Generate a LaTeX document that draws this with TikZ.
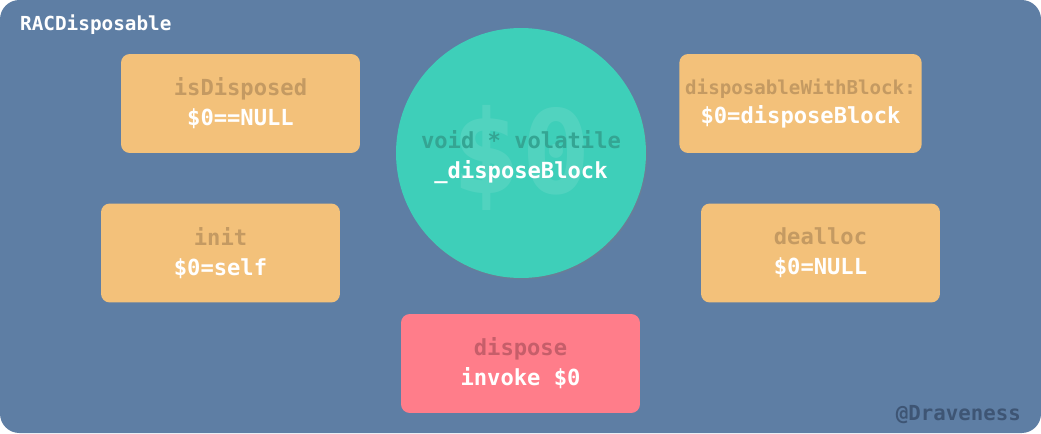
\documentclass[tikz,border=0pt]{standalone}
\usepackage{fontspec}
\setmonofont{DejaVu Sans Mono}
\usepackage{tikz}
\usetikzlibrary{shadows}
\definecolor{bgblue}{HTML}{5E7EA4}
\definecolor{boxorange}{HTML}{F3C17A}
\definecolor{txtorange}{HTML}{C49A62}
\definecolor{boxpink}{HTML}{FF7D8A}
\definecolor{txtpink}{HTML}{C65E6A}
\definecolor{circteal}{HTML}{3ECFB9}
\definecolor{txtteal}{HTML}{34A593}
\definecolor{markteal}{HTML}{5ED6C4}
\definecolor{signgray}{HTML}{3E5574}

\begin{document}
\begin{tikzpicture}[
    x=0.02cm, y=-0.02cm,
    method/.style={
      rectangle, fill=boxorange, rounded corners=5pt,
      minimum width=4.78cm, minimum height=1.98cm,
      align=center, text=white,
      font=\ttfamily\bfseries\fontsize{12.6}{17}\selectfont
    },
    action/.style={method, fill=boxpink},
    ivar/.style={
      circle, fill=circteal, minimum size=5cm, inner sep=0pt,
      drop shadow={opacity=0.35, shadow xshift=0.6pt, shadow yshift=-0.8pt}
    }
  ]
  \useasboundingbox (0,0) rectangle (1041,433);
  % background
  \fill[bgblue, rounded corners=11pt] (0,0) rectangle (1041,433);
  \node[anchor=west, text=white, font=\ttfamily\bfseries\fontsize{11}{13}\selectfont] (title) at (14,25) {RACDisposable};
  % ivar in the middle, with a faint $0 behind its text
  \node[ivar] (block) at (521,153) {};
  \node[text=markteal, opacity=0.6, font=\ttfamily\bfseries\fontsize{66}{66}\selectfont] (mark) at (521,158) {\$0};
  \node[align=center, text=white, font=\ttfamily\bfseries\fontsize{12.6}{17}\selectfont] (blockname) at (521,157)
    {{\color{txtteal}void * volatile}\\ \_disposeBlock};
  % methods -- row 1
  \node[method] (isdisp) at (240.5,103.5) {{\color{txtorange}isDisposed}\\ \$0==NULL};
  \node[method] (withblock) at (800.5,103.5)
    {{\color{txtorange}\fontsize{10.9}{17}\selectfont disposableWithBlock:}\\ \$0=disposeBlock};
  % row 2
  \node[method] (init) at (220.5,253) {{\color{txtorange}init}\\ \$0=self};
  \node[method] (dealloc) at (820.5,253) {{\color{txtorange}dealloc}\\ \$0=NULL};
  % row 3
  \node[action] (dispose) at (520.5,363.5) {{\color{txtpink}dispose}\\ invoke \$0};
  \node[anchor=east, text=signgray, font=\ttfamily\bfseries\fontsize{11.8}{13}\selectfont] (sign) at (1027,415) {@Draveness};
\end{tikzpicture}
\end{document}
